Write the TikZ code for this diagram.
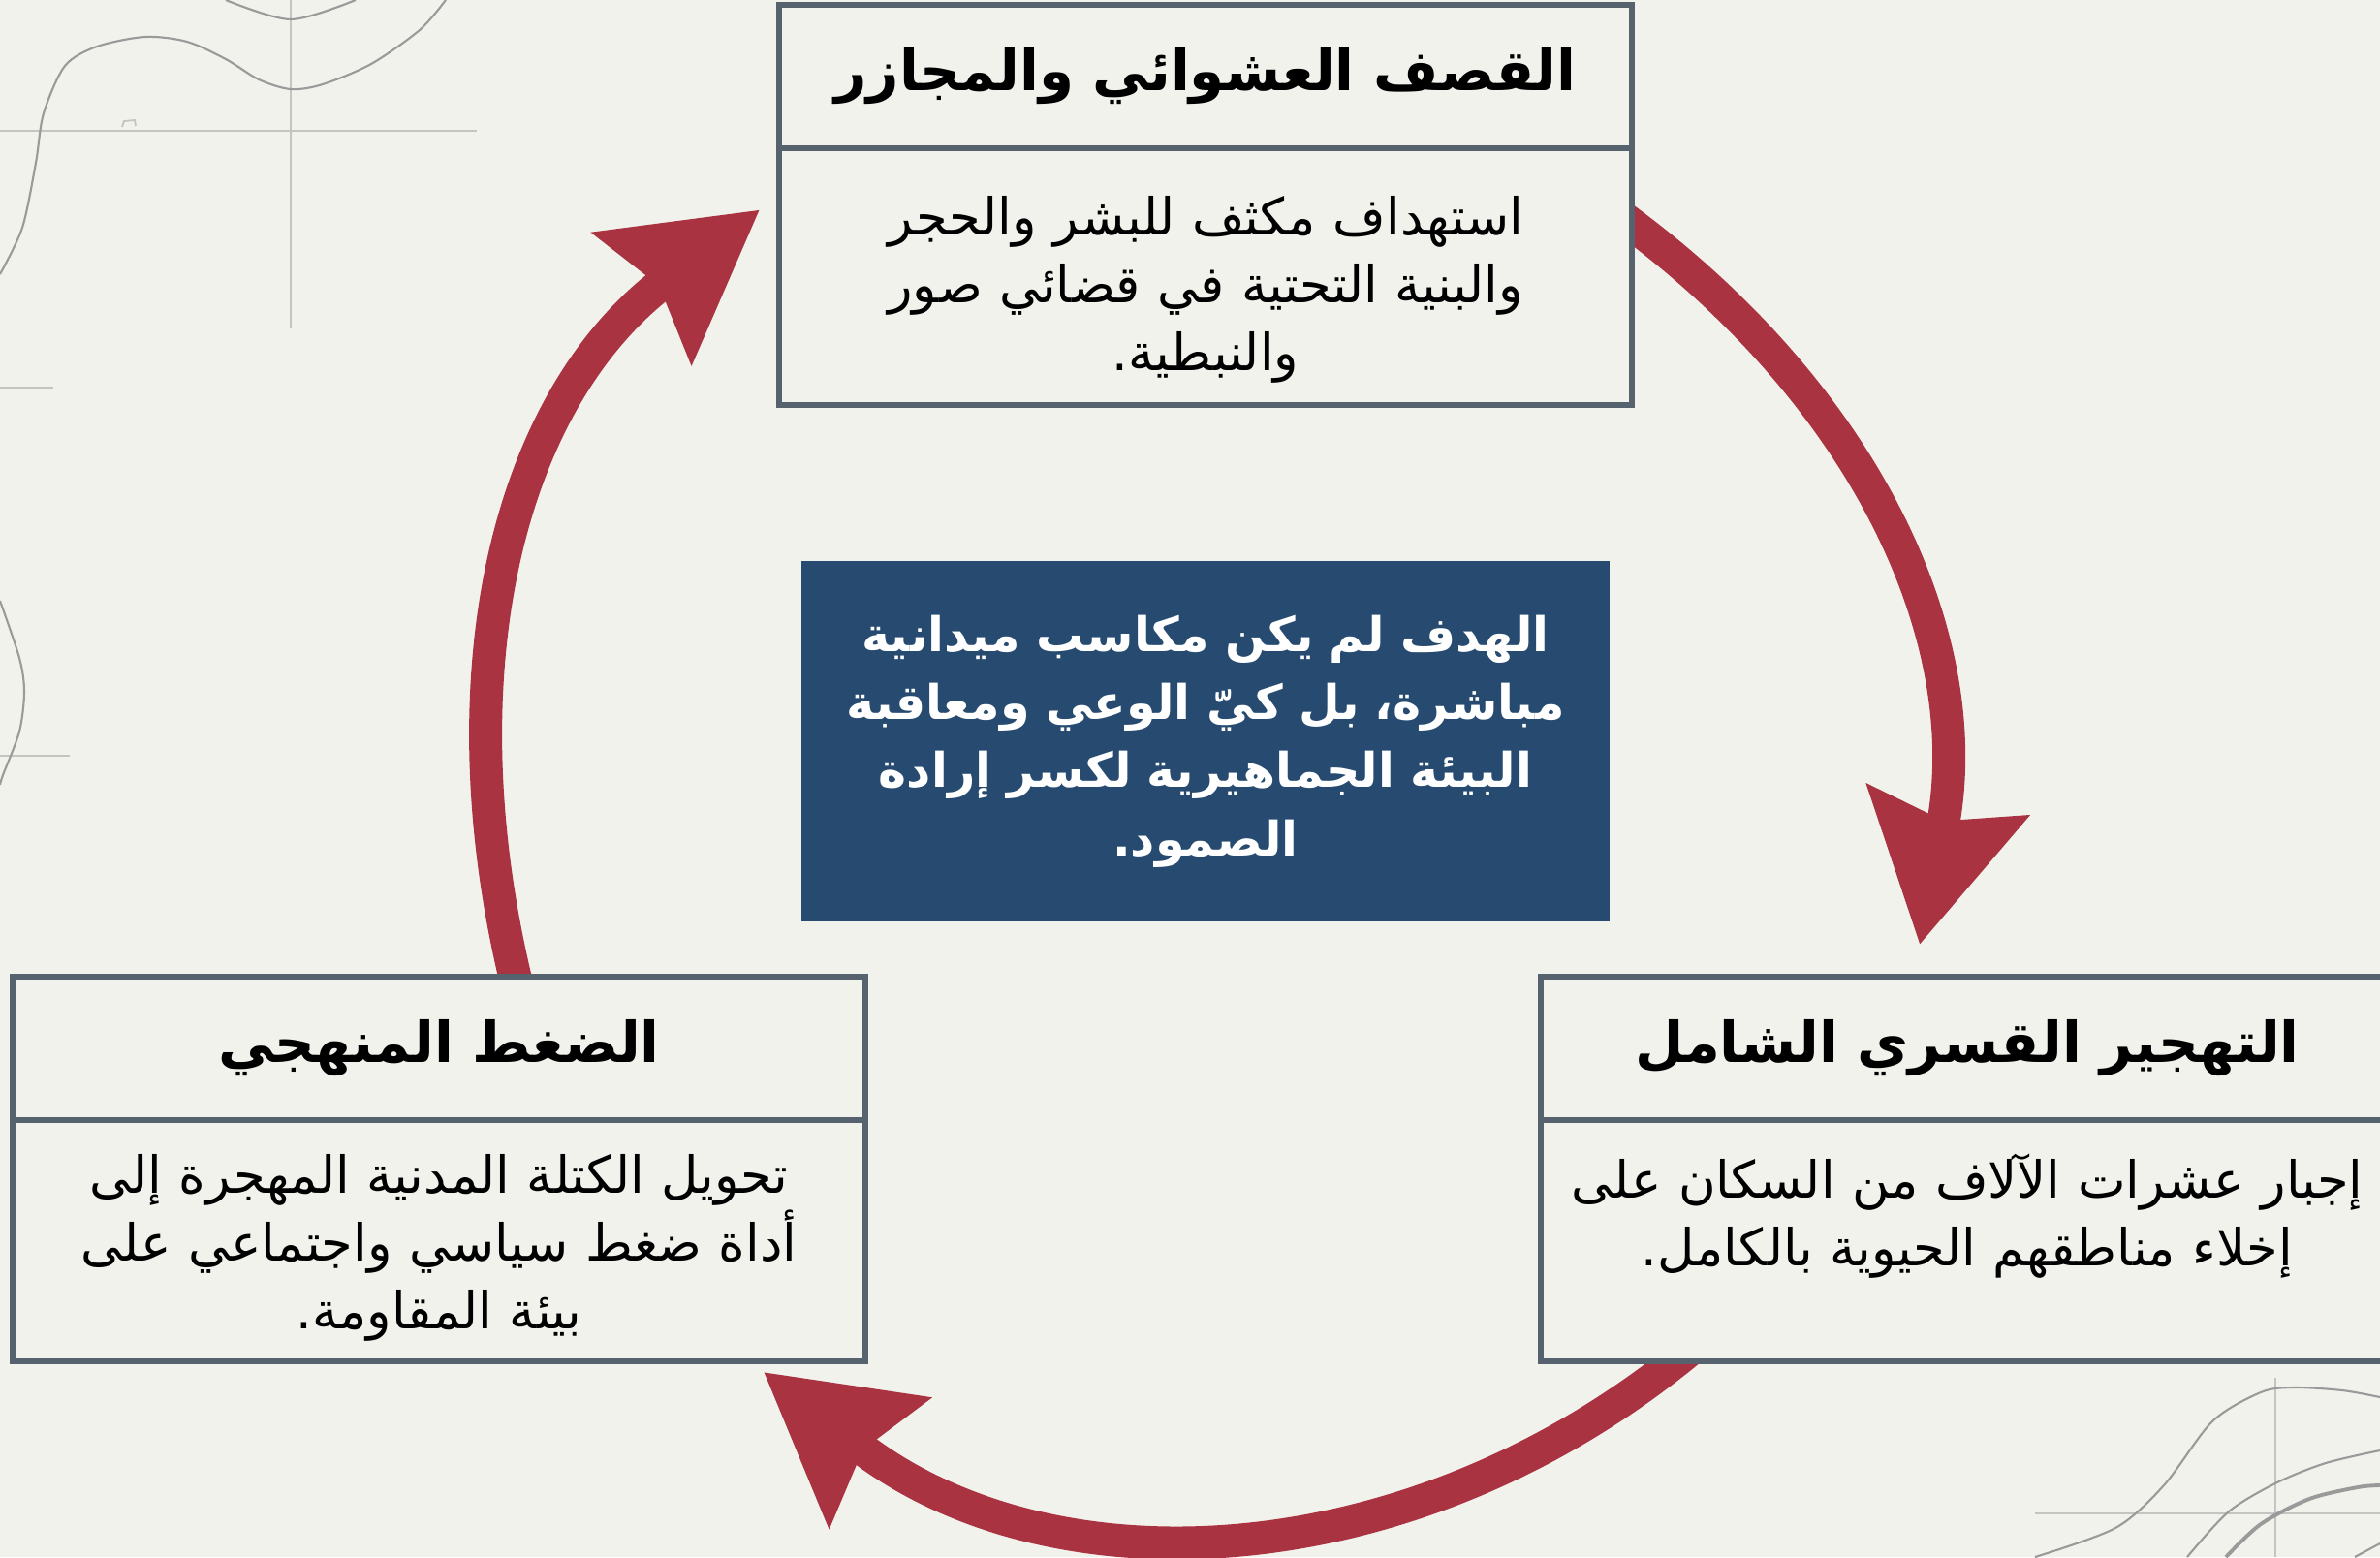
\documentclass[tikz,border=0pt]{standalone}
\usepackage{fontspec}
\usepackage{tikz}
\usetikzlibrary{positioning, arrows.meta}
\TeXXeTstate=1
\newfontfamily\arabicfont[Script=Arabic]{DejaVu Sans}
\definecolor{paper}{HTML}{F2F2EC}
\definecolor{frame}{HTML}{56636F}
\definecolor{navy}{HTML}{274B70}
\definecolor{cyclered}{HTML}{A93340}
\definecolor{contourgray}{HTML}{9A9A9A}
\definecolor{gridgray}{HTML}{C4C4C0}
\pgfdeclarelayer{paperlayer}
\pgfdeclarelayer{back}
\pgfsetlayers{paperlayer,back,main}

\begin{document}
\begin{tikzpicture}[x=1cm, y=1cm,
    panel/.style={draw=frame, line width=1.6pt, fill=paper, outer sep=0pt, inner xsep=0.2cm, text width=8.4cm, align=center},
    head/.style={panel, minimum height=1.48cm, inner ysep=0pt, font=\arabicfont\bfseries\fontsize{16.5}{22}\selectfont},
    body/.style 2 args={panel, inner ysep=0pt, text height=#1, text depth=#2, font=\arabicfont\fontsize{15}{20}\selectfont},
    goal/.style={fill=navy, text=white, minimum width=8.28cm, minimum height=3.72cm, text width=8.1cm, align=center, font=\arabicfont\bfseries\fontsize{14}{20}\selectfont},
    cyc/.style={draw=cyclered, line width=0.34cm, -{Stealth[length=15mm, width=16.5mm, inset=2mm]}},
    contour/.style={draw=contourgray, line width=0.6pt},
    gridline/.style={draw=gridgray, line width=0.5pt}]
    \useasboundingbox (0,0) rectangle (24.56,-16.07);

    \begin{pgfonlayer}{paperlayer}
    \fill[paper] (0,0) rectangle (24.56,-16.07);
    % top left
    \draw[gridline] (0,-1.35) -- (4.92,-1.35);
    \draw[gridline] (3.0,0) -- (3.0,-3.39);
    \draw[gridline] (0,-4.0) -- (0.55,-4.0);
    \draw[gridline] (0,-7.8) -- (0.72,-7.8);
    \draw[gridline] (1.26,-1.31) -- (1.28,-1.25) -- (1.39,-1.24) -- (1.40,-1.30);
    \draw[contour] plot[smooth] coordinates {(0,-2.83) (0.23,-2.35) (0.37,-1.68) (0.45,-1.17) (0.67,-0.68) (1.0,-0.48) (1.5,-0.38) (1.93,-0.43) (2.33,-0.61) (2.67,-0.82) (3.0,-0.92) (3.33,-0.87) (3.83,-0.66) (4.33,-0.31) (4.6,0)};
    \draw[contour] plot[smooth] coordinates {(2.33,0) (3.0,-0.20) (3.67,0)};
    \draw[contour] plot[smooth] coordinates {(0,-6.2) (0.2,-6.79) (0.25,-7.14) (0.2,-7.55) (0.03,-8.0) (0,-8.1)};
    % bottom right
    \draw[gridline] (21.0,-15.62) -- (24.56,-15.62);
    \draw[gridline] (23.48,-14.22) -- (23.48,-16.07);
    \draw[contour] plot[smooth] coordinates {(21.0,-16.07) (21.83,-15.77) (22.33,-15.33) (22.83,-14.67) (23.33,-14.37) (23.67,-14.32) (24.17,-14.35) (24.56,-14.42)};
    \draw[contour] plot[smooth] coordinates {(22.57,-16.07) (23.0,-15.60) (23.5,-15.30) (24.0,-15.10) (24.56,-14.97)};
    \draw[contour, line width=1.1pt] plot[smooth] coordinates {(22.97,-16.07) (23.33,-15.73) (23.83,-15.47) (24.33,-15.35) (24.56,-15.33)};
    \draw[contour] (24.3,-16.07) -- (24.56,-15.93);
    \end{pgfonlayer}

    \node[head] (qasfhead) at (12.44,-0.79) {\beginR القصف العشوائي والمجازر\endR};
    \node[body={0.89cm}{1.76cm}, below=0pt of qasfhead] (qasf) {\beginR استهداف مكثف للبشر والحجر\endR\\ \beginR والبنية التحتية في قضائي صور\endR\\ \beginR والنبطية.\endR};

    \node[head] (tahjirhead) at (20.30,-10.82) {\beginR التهجير القسري الشامل\endR};
    \node[body={0.8cm}{1.69cm}, below=0pt of tahjirhead] (tahjir) {\beginR إجبار عشرات الآلاف من السكان على\endR\\ \beginR إخلاء مناطقهم الحيوية بالكامل.\endR};

    \node[head] (daghthead) at (4.53,-10.82) {\beginR الضغط المنهجي\endR};
    \node[body={0.75cm}{1.74cm}, below=0pt of daghthead] (daght) {\beginR تحويل الكتلة المدنية المهجرة إلى\endR\\ \beginR أداة ضغط سياسي واجتماعي على\endR\\ \beginR بيئة المقاومة.\endR};

    \node[goal] (hadaf) at (12.44,-7.65) {\beginR الهدف لم يكن مكاسب ميدانية\endR\\ \beginR مباشرة، بل كيّ الوعي ومعاقبة\endR\\ \beginR البيئة الجماهيرية لكسر إرادة\endR\\ \beginR الصمود.\endR};

    \begin{pgfonlayer}{back}
    \draw[cyc] ([xshift=-0.15cm, yshift=0.65cm]qasf.east) to[out=-36, in=79] ([xshift=-0.49cm, yshift=0.33cm]tahjirhead.north);
    \draw[cyc] ([xshift=1.6cm, yshift=0.17cm]tahjir.south west) to[out=-140, in=-38] ([xshift=-1.05cm, yshift=-0.11cm]daght.south east);
    \draw[cyc] ([xshift=0.82cm, yshift=-0.15cm]daghthead.north) to[out=104, in=217] ([xshift=-0.2cm, yshift=0.69cm]qasf.west);
    \end{pgfonlayer}
\end{tikzpicture}
\end{document}
